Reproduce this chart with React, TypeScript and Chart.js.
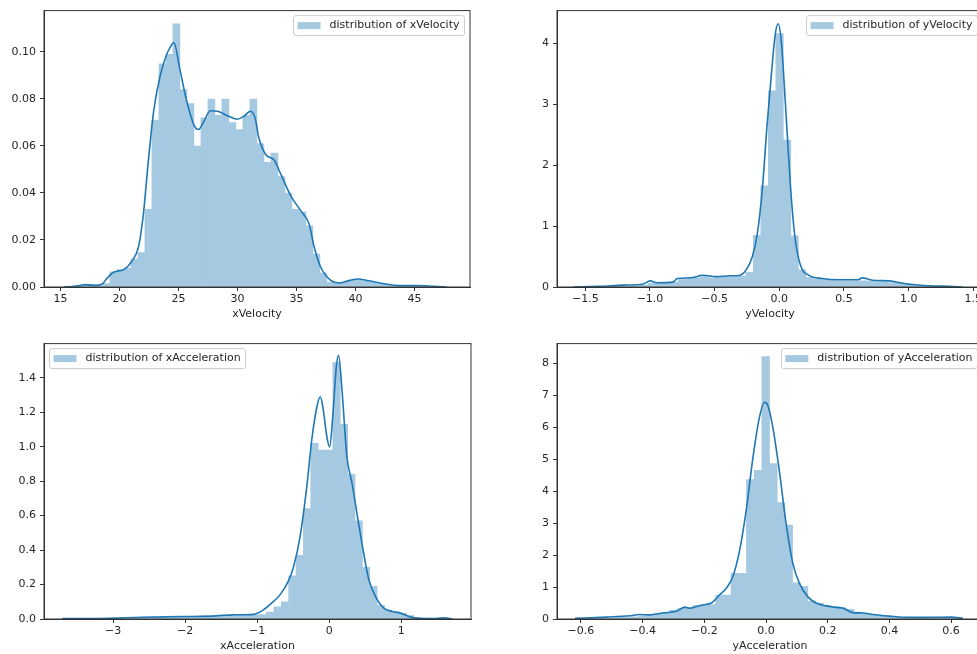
import { useEffect, useRef } from "react"
import { Chart, registerables } from "chart.js"

Chart.register(...registerables)
Chart.defaults.font.family = '"DejaVu Sans", sans-serif'
Chart.defaults.font.size = 11
Chart.defaults.color = "#262626"

const HIST_COLOR = "rgb(165, 201, 225)"
const KDE_COLOR = "#1f77b4"
const FRAME_COLOR = "#333333"

// --- xVelocity ---
const xVelBinStart = 15.627
const xVelBinWidth = 0.5931
const xVelDensity = [
  0.0003, 0.0005, 0.0008, 0.001, 0.0008, 0.0015, 0.0065, 0.0074, 0.008, 0.012,
  0.0146, 0.033, 0.071, 0.095, 0.099, 0.112, 0.084, 0.078, 0.06, 0.072,
  0.08, 0.073, 0.08, 0.07, 0.067, 0.073, 0.08, 0.061, 0.053, 0.057,
  0.047, 0.04, 0.033, 0.032, 0.026, 0.014, 0.006, 0.002, 0.0015, 0.002,
  0.003, 0.003, 0.0025, 0.002, 0.0015, 0.001, 0.0005, 0.0005, 0.0004, 0.0003,
]
const xVelKdeX = [
  15.3, 16.0, 16.7, 17.1, 17.6, 18.1, 18.6, 18.9, 19.5, 20.35,
  21.05, 21.6, 22.0, 22.45, 22.9, 23.45, 24.0, 24.35, 24.6, 25.1,
  25.65, 26.3, 26.7, 27.1, 27.7, 28.3, 29.1, 29.96, 30.5, 31.1,
  31.5, 31.8, 32.4, 33.1, 33.66, 34.5, 35.35, 36.05, 36.5, 37.04,
  37.9, 38.6, 39.3, 40.2, 41.0, 42.4, 43.8, 45.2, 46.6, 47.7,
]
const xVelKdeY = [
  0, 0.0002, 0.0007, 0.001, 0.0008, 0.0007, 0.0015, 0.0035, 0.0063, 0.0074,
  0.011, 0.0169, 0.03, 0.054, 0.075, 0.09, 0.099, 0.1025, 0.104, 0.093,
  0.08, 0.069, 0.067, 0.07, 0.075, 0.0748, 0.073, 0.0714, 0.0725, 0.0748,
  0.0717, 0.0636, 0.0563, 0.054, 0.0481, 0.0389, 0.0325, 0.027, 0.0169, 0.0085,
  0.0028, 0.0017, 0.0025, 0.0034, 0.0028, 0.0014, 0.0006, 0.0006, 0.0003, 0,
]
const xVelXTicks = [15, 20, 25, 30, 35, 40, 45]
const xVelXLabels = ["15", "20", "25", "30", "35", "40", "45"]
const xVelYTicks = [0, 0.02, 0.04, 0.06, 0.08, 0.1]
const xVelYLabels = ["0.00", "0.02", "0.04", "0.06", "0.08", "0.10"]

// --- yVelocity ---
const yVelBinStart = -1.477
const yVelBinWidth = 0.058
const yVelDensity = [
  0.005, 0.005, 0.008, 0.01, 0.012, 0.015, 0.02, 0.03, 0.06, 0.07,
  0.07, 0.08, 0.12, 0.13, 0.15, 0.16, 0.15, 0.16, 0.17, 0.17,
  0.18, 0.24, 0.85, 1.66, 3.22, 4.16, 2.41, 0.84, 0.28, 0.16,
  0.13, 0.12, 0.11, 0.1, 0.1, 0.1, 0.1, 0.1, 0.09, 0.08,
  0.07, 0.06, 0.05, 0.03, 0.02, 0.015, 0.012, 0.01, 0.008, 0.005,
]
const yVelKdeX = [
  -1.593, -1.4, -1.206, -1.05, -0.999, -0.95, -0.82, -0.79, -0.69, -0.59,
  -0.49, -0.38, -0.31, -0.26, -0.21, -0.17, -0.13, -0.096, -0.057, -0.031,
  -0.01, 0.015, 0.046, 0.085, 0.118, 0.16, 0.23, 0.33, 0.46, 0.61,
  0.64, 0.72, 0.85, 0.95, 1.03, 1.16, 1.31, 1.41,
]
const yVelKdeY = [
  0, 0.01, 0.03, 0.05, 0.1, 0.07, 0.08, 0.14, 0.15, 0.19,
  0.17, 0.185, 0.19, 0.27, 0.49, 0.87, 1.64, 2.62, 3.6, 4.15,
  4.32, 4.04, 3.05, 1.69, 0.87, 0.38, 0.19, 0.14, 0.12, 0.12,
  0.15, 0.11, 0.1, 0.065, 0.04, 0.02, 0.01, 0,
]
const yVelXTicks = [-1.5, -1, -0.5, 0, 0.5, 1, 1.5]
const yVelXLabels = ["−1.5", "−1.0", "−0.5", "0.0", "0.5", "1.0", "1.5"]
const yVelYTicks = [0, 1, 2, 3, 4]
const yVelYLabels = ["0", "1", "2", "3", "4"]

// --- xAcceleration ---
const xAccBinStart = -3.6354
const xAccBinWidth = 0.1024
const xAccDensity = [
  0.004, 0.003, 0.003, 0.003, 0.002, 0.002, 0.002, 0.003, 0.003, 0.004,
  0.005, 0.008, 0.005, 0.004, 0.005, 0.006, 0.008, 0.01, 0.01, 0.012,
  0.012, 0.014, 0.016, 0.022, 0.022, 0.024, 0.025, 0.04, 0.07, 0.1,
  0.25, 0.37, 0.64, 1.02, 0.98, 0.98, 1.49, 1.13, 0.84, 0.57,
  0.3, 0.19, 0.08, 0.05, 0.045, 0.035, 0.02, 0.01, 0.005, 0.004,
  0.005, 0.004,
]
const xAccKdeX = [
  -3.706, -3.2, -2.59, -2.03, -1.57, -1.33, -1.05, -0.916, -0.8, -0.684,
  -0.567, -0.497, -0.404, -0.311, -0.242, -0.172, -0.125, -0.088, -0.032, 0.005,
  0.052, 0.098, 0.13, 0.177, 0.246, 0.316, 0.386, 0.479, 0.549, 0.642,
  0.758, 0.874, 0.99, 1.13, 1.27, 1.5, 1.6, 1.71,
]
const xAccKdeY = [
  0.003, 0.003, 0.01, 0.014, 0.018, 0.024, 0.027, 0.053, 0.092, 0.14,
  0.22, 0.3, 0.48, 0.77, 1.04, 1.23, 1.29, 1.23, 1.056, 0.998,
  1.19, 1.46, 1.53, 1.33, 0.94, 0.79, 0.61, 0.38, 0.23, 0.131,
  0.063, 0.044, 0.034, 0.011, 0.003, 0.003, 0.007, 0,
]
const xAccXTicks = [-3, -2, -1, 0, 1]
const xAccXLabels = ["−3", "−2", "−1", "0", "1"]
const xAccYTicks = [0, 0.2, 0.4, 0.6, 0.8, 1.0, 1.2, 1.4]
const xAccYLabels = ["0.0", "0.2", "0.4", "0.6", "0.8", "1.0", "1.2", "1.4"]

// --- yAcceleration ---
const yAccBinStart = -0.6111
const yAccBinWidth = 0.0249
const yAccDensity = [
  0.01, 0.02, 0.02, 0.03, 0.04, 0.05, 0.06, 0.07, 0.1, 0.13,
  0.17, 0.2, 0.28, 0.33, 0.33, 0.42, 0.45, 0.45, 0.75, 0.75,
  1.43, 1.43, 4.36, 4.65, 8.21, 4.86, 3.64, 2.94, 1.13, 1.02,
  0.55, 0.5, 0.42, 0.4, 0.35, 0.3, 0.2, 0.17, 0.14, 0.1,
  0.07, 0.05, 0.04, 0.04, 0.03, 0.03, 0.02, 0.02, 0.03, 0.01,
]
const yAccKdeX = [
  -0.619, -0.517, -0.442, -0.41, -0.377, -0.334, -0.29, -0.263, -0.247, -0.225,
  -0.204, -0.177, -0.15, -0.128, -0.107, -0.085, -0.064, -0.042, -0.021, -0.005,
  0.006, 0.022, 0.043, 0.065, 0.087, 0.108, 0.135, 0.162, 0.195, 0.227,
  0.249, 0.281, 0.314, 0.346, 0.4, 0.465, 0.53, 0.6, 0.638,
]
const yAccKdeY = [
  0.02, 0.06, 0.1, 0.14, 0.13, 0.19, 0.24, 0.37, 0.34, 0.39,
  0.44, 0.5, 0.76, 0.97, 1.34, 2.17, 3.41, 5.07, 6.32, 6.78,
  6.68, 6.0, 4.65, 2.99, 1.74, 1.12, 0.7, 0.5, 0.41, 0.36,
  0.34, 0.2, 0.19, 0.14, 0.09, 0.05, 0.05, 0.06, 0.02,
]
const yAccXTicks = [-0.6, -0.4, -0.2, 0, 0.2, 0.4, 0.6]
const yAccXLabels = ["−0.6", "−0.4", "−0.2", "0.0", "0.2", "0.4", "0.6"]
const yAccYTicks = [0, 1, 2, 3, 4, 5, 6, 7, 8]
const yAccYLabels = ["0", "1", "2", "3", "4", "5", "6", "7", "8"]

type PanelSpec = {
  name: string
  binStart: number
  binWidth: number
  density: number[]
  kdeX: number[]
  kdeY: number[]
  xMin: number
  xMax: number
  yMax: number
  xTicks: number[]
  xLabels: string[]
  yTicks: number[]
  yLabels: string[]
  legendSide: "left" | "right"
}

function HistPanel({ spec, left, top, width, height }: { spec: PanelSpec; left: number; top: number; width: number; height: number }) {
  const chartRef = useRef<HTMLCanvasElement>(null)
  const chartInstance = useRef<Chart | null>(null)

  useEffect(() => {
    if (!chartRef.current) return
    if (chartInstance.current) chartInstance.current.destroy()

    const legendText = "distribution of " + spec.name

    // moldura completa + legenda no estilo matplotlib
    const framePlugin = {
      id: "frameAndLegend",
      afterDatasetsDraw(chart: Chart) {
        const { ctx, chartArea: a } = chart
        ctx.save()
        ctx.strokeStyle = FRAME_COLOR
        ctx.lineWidth = 1
        ctx.strokeRect(a.left, a.top, a.right - a.left, a.bottom - a.top)
        ctx.restore()
      },
      afterDraw(chart: Chart) {
        const { ctx, chartArea: a } = chart
        ctx.save()
        ctx.font = '11px "DejaVu Sans", sans-serif'
        const tw = ctx.measureText(legendText).width
        const w = 4 + 23 + 9 + tw + 5
        const h = 20
        const x = spec.legendSide === "left" ? a.left + 5.5 : a.right - 5.5 - w
        const y = a.top + 5
        ctx.beginPath()
        ctx.roundRect(x, y, w, h, 2.5)
        ctx.fillStyle = "rgba(255,255,255,0.8)"
        ctx.fill()
        ctx.strokeStyle = "#cccccc"
        ctx.lineWidth = 1
        ctx.stroke()
        ctx.fillStyle = HIST_COLOR
        ctx.fillRect(x + 4, y + h / 2 - 3.5, 23, 7)
        ctx.fillStyle = "#262626"
        ctx.textBaseline = "middle"
        ctx.textAlign = "left"
        ctx.fillText(legendText, x + 36, y + h / 2)
        ctx.restore()
      },
    }

    const bars = spec.density.map((d, i) => ({ x: spec.binStart + spec.binWidth * (i + 0.5), y: d }))
    const kde = spec.kdeX.map((x, i) => ({ x, y: spec.kdeY[i] }))

    chartInstance.current = new Chart(chartRef.current, {
      type: "bar",
      data: {
        datasets: [
          {
            type: "line",
            label: "kde",
            data: kde,
            borderColor: KDE_COLOR,
            borderWidth: 1.6,
            pointRadius: 0,
            cubicInterpolationMode: "monotone",
            fill: false,
            order: 0,
          },
          {
            type: "bar",
            label: legendText,
            data: bars,
            backgroundColor: HIST_COLOR,
            borderWidth: 0,
            barPercentage: 1,
            categoryPercentage: 1,
            order: 1,
          },
        ],
      } as any,
      options: {
        animation: false,
        responsive: true,
        maintainAspectRatio: false,
        layout: { padding: { top: 10, right: 10, bottom: 0, left: 0 } },
        plugins: { legend: { display: false }, tooltip: { enabled: false } },
        scales: {
          x: {
            type: "linear",
            min: spec.xMin,
            max: spec.xMax,
            offset: false,
            grid: { drawOnChartArea: false, drawTicks: true, tickLength: 4, color: FRAME_COLOR, offset: false },
            border: { display: true, color: FRAME_COLOR },
            ticks: {
              padding: 2,
              autoSkip: false,
              maxRotation: 0,
              callback: (_v: any, i: number) => spec.xLabels[i] ?? "",
            },
            afterBuildTicks: (s: any) => {
              s.ticks = spec.xTicks.map((value) => ({ value }))
            },
            afterFit: (s: any) => {
              s.height = 38
            },
            title: { display: true, text: spec.name, padding: { top: 0, bottom: 4 } },
          },
          y: {
            type: "linear",
            min: 0,
            max: spec.yMax,
            grid: { drawOnChartArea: false, drawTicks: true, tickLength: 4, color: FRAME_COLOR },
            border: { display: true, color: FRAME_COLOR },
            ticks: {
              padding: 4,
              autoSkip: false,
              callback: (_v: any, i: number) => spec.yLabels[i] ?? "",
            },
            afterBuildTicks: (s: any) => {
              s.ticks = spec.yTicks.map((value) => ({ value }))
            },
            afterFit: (s: any) => {
              s.width = 44
            },
          },
        },
      } as any,
      plugins: [framePlugin as any],
    })

    return () => {
      if (chartInstance.current) {
        chartInstance.current.destroy()
        chartInstance.current = null
      }
    }
  }, [spec])

  return (
    <div style={{ position: "absolute", left, top, width, height }}>
      <canvas ref={chartRef} />
    </div>
  )
}

const panels: PanelSpec[] = [
  {
    name: "xVelocity", binStart: xVelBinStart, binWidth: xVelBinWidth, density: xVelDensity,
    kdeX: xVelKdeX, kdeY: xVelKdeY, xMin: 13.6, xMax: 49.7, yMax: 0.1176,
    xTicks: xVelXTicks, xLabels: xVelXLabels, yTicks: xVelYTicks, yLabels: xVelYLabels, legendSide: "right",
  },
  {
    name: "yVelocity", binStart: yVelBinStart, binWidth: yVelBinWidth, density: yVelDensity,
    kdeX: yVelKdeX, kdeY: yVelKdeY, xMin: -1.719, xMax: 1.575, yMax: 4.537,
    xTicks: yVelXTicks, xLabels: yVelXLabels, yTicks: yVelYTicks, yLabels: yVelYLabels, legendSide: "right",
  },
  {
    name: "xAcceleration", binStart: xAccBinStart, binWidth: xAccBinWidth, density: xAccDensity,
    kdeX: xAccKdeX, kdeY: xAccKdeY, xMin: -3.961, xMax: 1.969, yMax: 1.598,
    xTicks: xAccXTicks, xLabels: xAccXLabels, yTicks: xAccYTicks, yLabels: xAccYLabels, legendSide: "left",
  },
  {
    name: "yAcceleration", binStart: yAccBinStart, binWidth: yAccBinWidth, density: yAccDensity,
    kdeX: yAccKdeX, kdeY: yAccKdeY, xMin: -0.6775, xMax: 0.7034, yMax: 8.613,
    xTicks: yAccXTicks, xLabels: yAccXLabels, yTicks: yAccYTicks, yLabels: yAccYLabels, legendSide: "right",
  },
]

export default function App() {
  return (
    <div style={{ position: "fixed", left: 0, top: 0, width: 977, height: 654, overflow: "hidden", background: "#fff" }}>
      <HistPanel spec={panels[0]} left={0} top={0} width={480} height={325} />
      <HistPanel spec={panels[1]} left={513} top={0} width={480} height={325} />
      <HistPanel spec={panels[2]} left={0} top={333} width={481} height={324} />
      <HistPanel spec={panels[3]} left={513} top={333} width={480} height={324} />
    </div>
  )
}
